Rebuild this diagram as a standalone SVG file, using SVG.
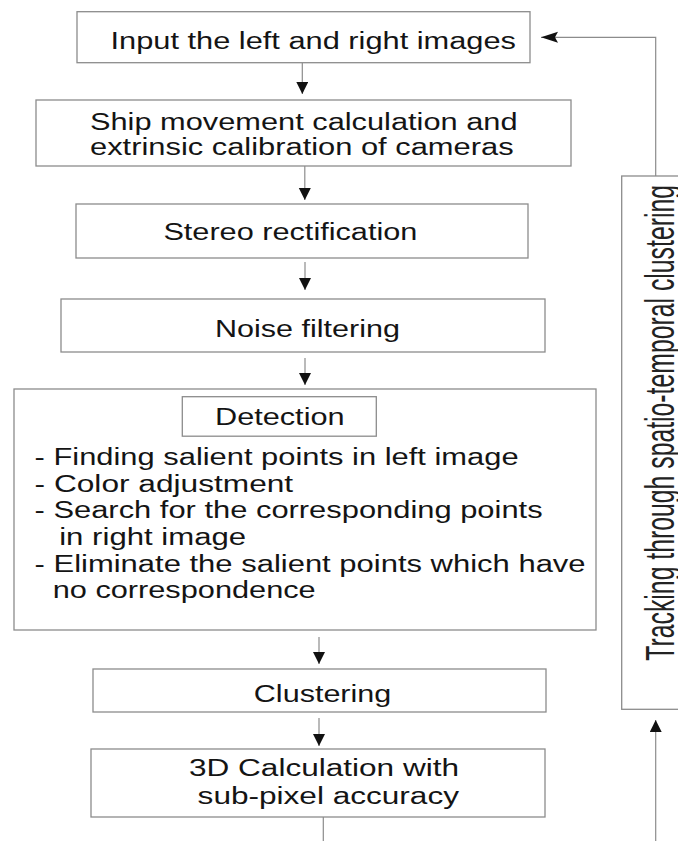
<svg xmlns="http://www.w3.org/2000/svg" width="678" height="841" viewBox="0 0 678 841">
<style>
.box{fill:#fff;stroke:#8c8c8c;stroke-width:1.3}
.t{font-family:"Liberation Sans",Arial,Helvetica,sans-serif;font-size:23px;fill:#141414}
.vt{font-family:"Liberation Sans",Arial,Helvetica,sans-serif;font-size:41px;fill:#222}
.ln{fill:none;stroke:#8c8c8c;stroke-width:1.2}
</style>
<defs>
<marker id="ad" markerUnits="userSpaceOnUse" markerWidth="14" markerHeight="14" refX="12" refY="6" orient="auto">
<path d="M0,0 L12,6 L0,12 z" fill="#111"/>
</marker>
<marker id="ah" markerUnits="userSpaceOnUse" markerWidth="20" markerHeight="14" refX="17" refY="5.5" orient="auto">
<path d="M0,0 L17,5.5 L0,11 L3,5.5 z" fill="#111"/>
</marker>
</defs>
<rect width="678" height="841" fill="#fff"/>
<g id="input">
<rect class="box" x="77" y="11.7" width="453" height="51"/>
<text class="t" transform="scale(1.4 1)" x="78.93" y="48.6" textLength="289.64" lengthAdjust="spacingAndGlyphs">Input the left and right images</text>
</g>
<g id="ship">
<rect class="box" x="36" y="100" width="535" height="66"/>
<text class="t" transform="scale(1.4 1)" x="64.29" y="129.8" textLength="305.36" lengthAdjust="spacingAndGlyphs">Ship movement calculation and</text>
<text class="t" transform="scale(1.4 1)" x="64.29" y="155.2" textLength="302.57" lengthAdjust="spacingAndGlyphs">extrinsic calibration of cameras</text>
</g>
<g id="stereo">
<rect class="box" x="76" y="204" width="452" height="54"/>
<text class="t" transform="scale(1.4 1)" x="116.71" y="240.3" textLength="181.43" lengthAdjust="spacingAndGlyphs">Stereo rectification</text>
</g>
<g id="noise">
<rect class="box" x="61" y="299" width="484" height="53"/>
<text class="t" transform="scale(1.4 1)" x="153.57" y="337" textLength="132.14" lengthAdjust="spacingAndGlyphs">Noise filtering</text>
</g>
<g id="detection">
<rect class="box" x="14" y="389" width="582" height="241"/>
<rect class="box" x="182.3" y="396.7" width="194" height="39.5"/>
<text class="t" transform="scale(1.4 1)" x="153.57" y="424.6" textLength="92.57" lengthAdjust="spacingAndGlyphs">Detection</text>
<text class="t" transform="scale(1.4 1)" x="24.71" y="465.3" textLength="345.71" lengthAdjust="spacingAndGlyphs">- Finding salient points in left image</text>
<text class="t" transform="scale(1.4 1)" x="24.71" y="491.8" textLength="184.71" lengthAdjust="spacingAndGlyphs">- Color adjustment</text>
<text class="t" transform="scale(1.4 1)" x="24.71" y="518.3" textLength="362.86" lengthAdjust="spacingAndGlyphs">- Search for the corresponding points</text>
<text class="t" transform="scale(1.4 1)" x="42.29" y="545.3" textLength="133.57" lengthAdjust="spacingAndGlyphs">in right image</text>
<text class="t" transform="scale(1.4 1)" x="24.71" y="572.3" textLength="393.57" lengthAdjust="spacingAndGlyphs">- Eliminate the salient points which have</text>
<text class="t" transform="scale(1.4 1)" x="37.64" y="598.3" textLength="187.86" lengthAdjust="spacingAndGlyphs">no correspondence</text>
</g>
<g id="clustering">
<rect class="box" x="93" y="669" width="453" height="43"/>
<text class="t" transform="scale(1.4 1)" x="181.29" y="702" textLength="98.21" lengthAdjust="spacingAndGlyphs">Clustering</text>
</g>
<g id="calc3d">
<rect class="box" x="91" y="749" width="454" height="68"/>
<text class="t" transform="scale(1.4 1)" x="135" y="776.3" textLength="192.86" lengthAdjust="spacingAndGlyphs">3D Calculation with</text>
<text class="t" transform="scale(1.4 1)" x="141.14" y="803.6" textLength="186.71" lengthAdjust="spacingAndGlyphs">sub-pixel accuracy</text>
</g>
<g id="tracking">
<rect class="box" x="621.7" y="176" width="80" height="533.3"/>
<text class="vt" transform="translate(674,660.7) rotate(-90)" x="0" y="0" textLength="475.7" lengthAdjust="spacingAndGlyphs">Tracking through spatio-temporal clustering</text>
</g>
<g id="connectors">
<line class="ln" x1="302.3" y1="63" x2="302.3" y2="94" marker-end="url(#ad)"/>
<line class="ln" x1="304.8" y1="166" x2="304.8" y2="200" marker-end="url(#ad)"/>
<line class="ln" x1="305" y1="262" x2="305" y2="290" marker-end="url(#ad)"/>
<line class="ln" x1="305" y1="358" x2="305" y2="385" marker-end="url(#ad)"/>
<line class="ln" x1="319" y1="637" x2="319" y2="664" marker-end="url(#ad)"/>
<line class="ln" x1="319" y1="718" x2="319" y2="746" marker-end="url(#ad)"/>
<line class="ln" x1="323.3" y1="817" x2="323.3" y2="841"/>
<line class="ln" x1="655.7" y1="841" x2="655.7" y2="720" marker-end="url(#ad)"/>
<polyline class="ln" points="655.7,176 655.7,37.3 541,37.3" marker-end="url(#ah)"/>
</g>
</svg>
